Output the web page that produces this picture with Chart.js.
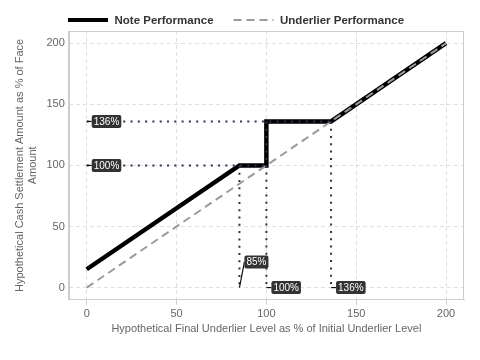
<!DOCTYPE html>
<html><head><meta charset="utf-8">
<script src="https://cdn.jsdelivr.net/npm/chart.js@4"></script>
<style>html,body{margin:0;padding:0;background:#fff}</style>
</head><body>
<canvas id="c" width="480" height="360" style="width:480px;height:360px;display:block"></canvas>
<script>
// ---- data ----
const noteX = [0, 85, 100, 100, 136, 200];
const noteY = [15, 100, 100, 136, 136, 200];
const underX = [0, 200];
const underY = [0, 200];
const guideHLevel = [136, 100];     // horizontal guides, y value
const guideHEnd = [136, 100];       // horizontal guides, end x
const guideVPos = [85, 100, 136];   // vertical guides, x value
const guideVTop = [100, 136, 136];  // vertical guides, top y
const annText = ['136%', '100%', '85%', '100%', '136%'];
const annX = [0, 0, 85, 100, 136];
const annY = [136, 100, 0, 0, 0];
const annLabelY = [136, 100, 21, 0, 0];
const xTicks = [0, 50, 100, 150, 200];
const yTicks = [0, 50, 100, 150, 200];
const seriesNames = ['Note Performance', 'Underlier Performance'];

const FONT = '"Liberation Sans", Arial, sans-serif';
const guideColor = '#2b3350';
const guideStyle = {borderColor: guideColor, borderWidth: 2, borderDash: [2, 5.3], pointRadius: 0, fill: false, order: 1};

const datasets = [
  {label: seriesNames[0], data: noteX.map((v, i) => ({x: v, y: noteY[i]})), borderColor: '#000', backgroundColor: '#000', borderWidth: 4.5, pointRadius: 0, order: 3},
  {label: seriesNames[1], data: underX.map((v, i) => ({x: v, y: underY[i]})), borderColor: '#9a9a9f', backgroundColor: '#9a9a9f', borderWidth: 2, borderDash: [8, 5], pointRadius: 0, order: 2}
];
guideHLevel.forEach((lv, i) => datasets.push(Object.assign({label: 'gh' + i, data: [{x: 0, y: lv}, {x: guideHEnd[i], y: lv}]}, guideStyle)));
guideVPos.forEach((xv, i) => datasets.push(Object.assign({label: 'gv' + i, data: [{x: xv, y: guideVTop[i]}, {x: xv, y: 0}]}, guideStyle)));

const borderPlugin = {
  id: 'frame',
  beforeDatasetsDraw(chart) {
    const a = chart.chartArea, ctx = chart.ctx;
    ctx.save();
    ctx.strokeStyle = '#c9cdd4';
    ctx.lineWidth = 1;
    ctx.setLineDash([]);
    ctx.strokeRect(Math.round(a.left) + 0.5, Math.round(a.top) + 0.5, Math.round(a.right - a.left) - 1, Math.round(a.bottom - a.top) - 1);
    ctx.restore();
  }
};

const legendPlugin = {
  id: 'customLegend',
  afterDraw(chart) {
    const ctx = chart.ctx;
    const ds = chart.data.datasets.slice(0, 2);
    ctx.save();
    ctx.font = 'bold 11.5px ' + FONT;
    ctx.textBaseline = 'middle';
    const boxW = 40, gap = 6.5, itemGap = 20;
    const widths = ds.map(d => boxW + gap + ctx.measureText(d.label).width);
    const total = widths[0] + itemGap + widths[1];
    let x = 236 - total / 2;
    const cy = 20;
    ds.forEach((d, i) => {
      ctx.strokeStyle = d.borderColor;
      ctx.lineWidth = i === 0 ? 4 : 2;
      ctx.setLineDash(i === 0 ? [] : [8, 5]);
      ctx.beginPath();
      ctx.moveTo(x, cy);
      ctx.lineTo(x + boxW, cy);
      ctx.stroke();
      ctx.setLineDash([]);
      ctx.fillStyle = '#333';
      ctx.fillText(d.label, x + boxW + gap, cy + 0.5);
      x += widths[i] + itemGap;
    });
    ctx.restore();
  }
};

const labelPlugin = {
  id: 'lbls',
  afterDatasetsDraw(chart) {
    const {ctx} = chart, x = chart.scales.x, y = chart.scales.y;
    ctx.save();
    ctx.font = '10px ' + FONT;
    ctx.textBaseline = 'middle';
    annText.forEach((t, i) => {
      const ax = x.getPixelForValue(annX[i]);
      const ay = y.getPixelForValue(annY[i]);
      const ly = y.getPixelForValue(annLabelY[i]);
      const bx = ax + 5;
      const w = ctx.measureText(t).width + 4;
      const h = 13;
      ctx.strokeStyle = '#111';
      ctx.lineWidth = 1.2;
      ctx.setLineDash([]);
      ctx.beginPath();
      ctx.moveTo(ax, ay);
      ctx.lineTo(bx, ly);
      ctx.stroke();
      ctx.fillStyle = '#333333';
      ctx.beginPath();
      ctx.roundRect(bx, ly - h / 2, w, h, 2);
      ctx.fill();
      ctx.fillStyle = '#ffffff';
      ctx.fillText(t, bx + 2, ly + 0.5);
    });
    ctx.restore();
  }
};

new Chart(document.getElementById('c'), {
  type: 'line',
  data: {datasets},
  options: {
    responsive: false,
    animation: false,
    devicePixelRatio: 1,
    layout: {padding: {top: 31, right: 16, bottom: 26, left: 13}},
    plugins: {
      tooltip: {enabled: false},
      legend: {display: false}
    },
    scales: {
      x: {
        type: 'linear', min: -10, max: 210,
        afterBuildTicks: s => { s.ticks = xTicks.map(v => ({value: v})); },
        grid: {color: '#e0e0e0', tickLength: 5, tickColor: '#c9cdd4', drawTicks: true},
        border: {display: true, color: '#c9cdd4', dash: [4, 3]},
        ticks: {color: '#666', font: {family: FONT, size: 11}, padding: 3},
        title: {display: true, text: 'Hypothetical Final Underlier Level as % of Initial Underlier Level', color: '#666', font: {family: FONT, size: 11, lineHeight: 1}, padding: {top: -1, bottom: 0}}
      },
      y: {
        type: 'linear', min: -10, max: 210,
        afterBuildTicks: s => { s.ticks = yTicks.map(v => ({value: v})); },
        grid: {color: '#e0e0e0', tickLength: 0, drawTicks: false},
        border: {display: true, color: '#c9cdd4', dash: [4, 3]},
        ticks: {color: '#666', font: {family: FONT, size: 11}, padding: 4},
        title: {display: true, text: ['Hypothetical Cash Settlement Amount as % of Face', 'Amount'], color: '#666', font: {family: FONT, size: 11, lineHeight: 1.2}, padding: {top: 0, bottom: 3}}
      }
    }
  },
  plugins: [borderPlugin, labelPlugin, legendPlugin]
});
</script>
</body></html>
